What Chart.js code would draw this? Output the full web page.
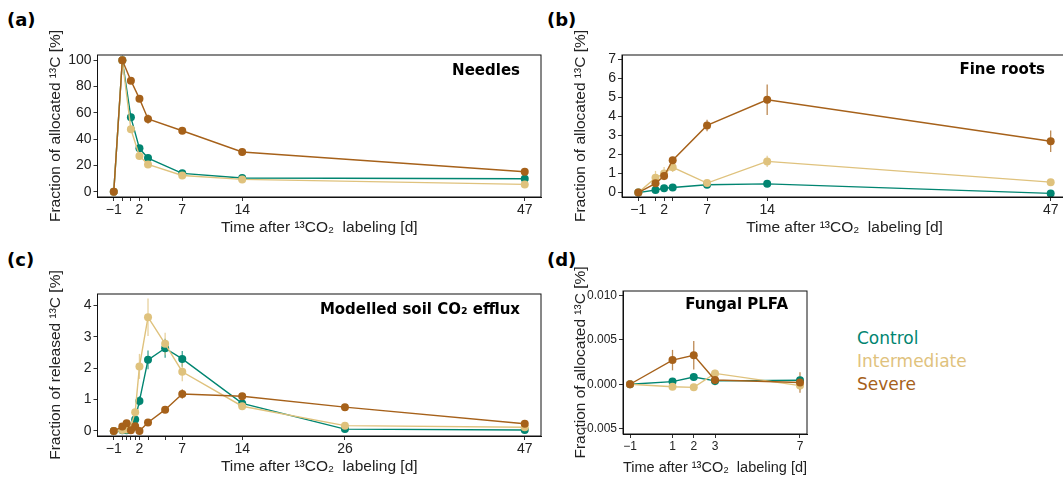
<!DOCTYPE html>
<html>
<head>
<meta charset="utf-8">
<script src="https://cdn.jsdelivr.net/npm/chart.js@4.4.1/dist/chart.umd.min.js"></script>
<style>
  body { margin: 0; width: 1063px; height: 481px; overflow: hidden; background: #fff; position: relative; }
  canvas { position: absolute; }
  .tag { position: absolute; font: bold 18px "DejaVu Sans", sans-serif; line-height: 18px; color: #000; }
  #legend { position: absolute; left: 857px; top: 327px; font: 17px "DejaVu Sans", sans-serif; line-height: 23px; }
</style>
</head>
<body>
<div class="tag" style="left:7px;top:11px">(a)</div>
<div class="tag" style="left:547px;top:11px">(b)</div>
<div class="tag" style="left:7px;top:251px">(c)</div>
<div class="tag" style="left:547px;top:251px">(d)</div>
<canvas id="chartA" width="545" height="225" style="left:0;top:20px;width:545px;height:225px"></canvas>
<canvas id="chartB" width="530" height="225" style="left:545px;top:20px;width:530px;height:225px"></canvas>
<canvas id="chartC" width="545" height="222" style="left:0;top:258px;width:545px;height:222px"></canvas>
<canvas id="chartD" width="300" height="222" style="left:545px;top:258px;width:300px;height:222px"></canvas>
<div id="legend"></div>
<script>
// series
const seriesNames = ['Control', 'Intermediate', 'Severe'];
const seriesColors = ['#018571', '#dfc27d', '#a6611a'];

// (a) needles
const needlesDays = [-1, 0, 1, 2, 3, 7, 14, 47];
const needlesControl = [0, 100, 56.6, 33, 25.6, 14, 10.4, 9.9];
const needlesInter = [0, 100, 47.5, 27.2, 20.8, 12.4, 9.4, 5.6];
const needlesSevere = [0, 100, 84.5, 70.8, 55.3, 46.4, 30.2, 15.2];
const needlesControlErr = [0, 0, 3, 1.5, 1.5, 1.5, 1.5, 1];
const needlesInterErr = [0, 0, 2, 1.5, 1.5, 1.5, 1.5, 1];
const needlesSevereErr = [0, 0, 2, 2, 3.5, 1.5, 2.5, 1.5];
const needlesXTicks = [-1, 0, 1, 2, 3, 7, 14, 47];
const needlesXLabels = [-1, 2, 7, 14, 47];
const needlesYTicks = [0, 20, 40, 60, 80, 100];

// (b) fine roots
const rootsDays = [-1, 1, 2, 3, 7, 14, 47];
const rootsControl = [0, 0.14, 0.23, 0.27, 0.41, 0.46, -0.04];
const rootsInter = [0, 0.78, 1.0, 1.33, 0.5, 1.64, 0.55];
const rootsSevere = [0, 0.49, 0.87, 1.7, 3.53, 4.88, 2.7];
const rootsControlErr = [0, 0.05, 0.05, 0.05, 0.05, 0.05, 0.05];
const rootsInterErr = [0, 0.36, 0.35, 0.25, 0.1, 0.3, 0.1];
const rootsSevereErr = [0, 0.15, 0.2, 0.15, 0.3, 0.8, 0.57];
const rootsXTicks = [-1, 1, 2, 3, 7, 14, 47];
const rootsXLabels = [-1, 2, 7, 14, 47];
const rootsYTicks = [0, 1, 2, 3, 4, 5, 6, 7];

// (c) modelled soil CO2 efflux
const effluxDays = [-1, 0, 0.5, 1, 1.5, 2, 3, 5, 7, 14, 26, 47];
const effluxControl = [0, 0.02, 0.02, 0.06, 0.37, 0.96, 2.27, 2.64, 2.3, 0.88, 0.06, 0.03];
const effluxInter = [0, 0.03, 0.05, 0.15, 0.6, 2.06, 3.63, 2.78, 1.89, 0.79, 0.17, 0.12];
const effluxSevere = [0, 0.14, 0.25, 0.02, 0.15, 0, 0.27, 0.68, 1.18, 1.11, 0.76, 0.23];
const effluxControlErr = [0, 0.05, 0.05, 0.05, 0.1, 0.15, 0.3, 0.3, 0.25, 0.1, 0.03, 0.03];
const effluxInterErr = [0, 0.05, 0.05, 0.1, 0.1, 0.4, 0.6, 0.35, 0.3, 0.1, 0.05, 0.05];
const effluxSevereErr = [0, 0.05, 0.05, 0.05, 0.15, 0.05, 0.05, 0.1, 0.15, 0.08, 0.05, 0.05];
const effluxXTicks = [-1, 0, 0.5, 1, 1.5, 2, 3, 5, 7, 14, 26, 47];
const effluxXLabels = [-1, 2, 7, 14, 26, 47];
const effluxYTicks = [0, 1, 2, 3, 4];

// (d) fungal PLFA
const plfaDays = [-1, 1, 2, 3, 7];
const plfaControl = [0, 0.0003, 0.00082, 0.00038, 0.00045];
const plfaInter = [0, -0.00028, -0.00035, 0.00122, -0.00015];
const plfaSevere = [0, 0.00272, 0.00326, 0.00048, 0.0002];
const plfaControlErr = [0, 0.0002, 0.0002, 0.0002, 0.0002];
const plfaInterErr = [0, 0.0002, 0.0002, 0.0004, 0.0005];
const plfaSevereErr = [0, 0.00115, 0.0016, 0.0006, 0.00115];
const plfaXTicks = [-1, 1, 2, 3, 7];
const plfaYTicks = [-0.005, 0, 0.005, 0.010];

Chart.defaults.font.family = '"Liberation Sans", Arial, sans-serif';
Chart.defaults.color = '#222';

function fmt(v, digits) {
  var s = digits ? Math.abs(v).toFixed(digits) : String(Math.abs(v));
  return (v < 0 ? '\u2212' : '') + s;
}

// panel border like ggplot
const boxPlugin = {
  id: 'panelBox',
  afterDraw(chart) {
    const { ctx, chartArea: a } = chart;
    ctx.save();
    ctx.strokeStyle = '#111';
    ctx.lineWidth = 1;
    ctx.strokeRect(a.left, a.top, a.right - a.left, a.bottom - a.top);
    ctx.restore();
  }
};

// vertical error bars, drawn under the lines
const errorBarPlugin = {
  id: 'errorBars',
  beforeDatasetsDraw(chart) {
    const { ctx } = chart;
    const xs = chart.scales.x, ys = chart.scales.y;
    chart.data.datasets.forEach(ds => {
      if (!ds.errors) return;
      ctx.save();
      ctx.strokeStyle = ds.borderColor;
      ctx.globalAlpha = 0.75;
      ctx.lineWidth = 1.3;
      ds.data.forEach((p, j) => {
        const e = ds.errors[j];
        if (!e) return;
        const x = xs.getPixelForValue(p.x);
        ctx.beginPath();
        ctx.moveTo(x, ys.getPixelForValue(p.y - e));
        ctx.lineTo(x, ys.getPixelForValue(p.y + e));
        ctx.stroke();
      });
      ctx.restore();
    });
  }
};

// bold label in the top right corner of the panel
const panelTitlePlugin = {
  id: 'panelTitle',
  afterDraw(chart, args, opts) {
    if (!opts.text) return;
    const { ctx, chartArea: a } = chart;
    ctx.save();
    ctx.font = 'bold 15px "DejaVu Sans", sans-serif';
    ctx.fillStyle = '#000';
    ctx.textAlign = 'right';
    ctx.textBaseline = 'middle';
    ctx.fillText(opts.text, a.right - opts.dx, a.top + opts.dy);
    ctx.restore();
  }
};

function makePanel(id, days, values, errors, o) {
  const order = [2, 1, 0];
  const datasets = values.map((vals, i) => ({
    label: seriesNames[i],
    data: days.map((d, j) => ({ x: d, y: vals[j] })),
    errors: errors[i],
    borderColor: seriesColors[i],
    backgroundColor: seriesColors[i],
    pointBackgroundColor: seriesColors[i],
    pointBorderWidth: 0,
    pointRadius: 4,
    borderWidth: 1.4,
    order: order[i],
    tension: 0
  }));

  new Chart(document.getElementById(id), {
    type: 'line',
    data: { datasets: datasets },
    plugins: [errorBarPlugin, boxPlugin, panelTitlePlugin],
    options: {
      responsive: false,
      animation: false,
      devicePixelRatio: 1,
      layout: { padding: o.pad },
      plugins: {
        legend: { display: false },
        tooltip: { enabled: false },
        panelTitle: { text: o.title, dx: o.titleDx, dy: o.titleDy }
      },
      scales: {
        x: {
          type: 'linear',
          min: o.xMin,
          max: o.xMax,
          afterBuildTicks: s => { s.ticks = o.xTicks.map(v => ({ value: v })); },
          afterFit: s => { s.height = o.xH; },
          ticks: {
            autoSkip: false,
            maxRotation: 0,
            padding: 1,
            color: '#222',
            font: { size: o.tickSize },
            callback: v => (o.xLabels.includes(v) ? fmt(v) : '')
          },
          grid: { display: true, drawOnChartArea: false, drawTicks: true, tickLength: 4, color: '#333' },
          border: { display: true, color: '#111' },
          title: {
            display: true,
            text: 'Time after \u00b9\u00b3CO\u2082  labeling [d]',
            font: { size: 15.5 },
            color: '#222',
            padding: { top: 0, bottom: o.xTitlePad }
          }
        },
        y: {
          type: 'linear',
          min: o.yMin,
          max: o.yMax,
          afterBuildTicks: s => { s.ticks = o.yTicks.map(v => ({ value: v })); },
          afterFit: s => { s.width = o.yW; },
          ticks: {
            autoSkip: false,
            padding: 2,
            color: '#222',
            font: { size: o.tickSize },
            callback: v => fmt(v, o.yDigits)
          },
          grid: { display: true, drawOnChartArea: false, drawTicks: true, tickLength: 4, color: '#333' },
          border: { display: true, color: '#111' },
          title: {
            display: true,
            text: o.yTitle,
            font: { size: 15.5 },
            color: '#222',
            padding: { top: o.yTitlePad, bottom: 0 }
          }
        }
      }
    }
  });
}

makePanel('chartA', needlesDays,
  [needlesControl, needlesInter, needlesSevere],
  [needlesControlErr, needlesInterErr, needlesSevereErr],
  { pad: { left: 0, top: 35, right: 3.5, bottom: 0 }, xH: 48, yW: 97.5,
    xMin: -2.9, xMax: 48.9, yMin: -4, yMax: 104,
    xTicks: needlesXTicks, xLabels: needlesXLabels, yTicks: needlesYTicks, yDigits: 0,
    tickSize: 14, xTitlePad: 8, yTitlePad: 46,
    yTitle: 'Fraction of allocated \u00b9\u00b3C [%]',
    title: 'Needles', titleDx: 21, titleDy: 16 });

makePanel('chartB', rootsDays,
  [rootsControl, rootsInter, rootsSevere],
  [rootsControlErr, rootsInterErr, rootsSevereErr],
  { pad: { left: 0, top: 35, right: 8, bottom: 0 }, xH: 48, yW: 77,
    xMin: -2.9, xMax: 48.9, yMin: -0.23, yMax: 7.23,
    xTicks: rootsXTicks, xLabels: rootsXLabels, yTicks: rootsYTicks, yDigits: 0,
    tickSize: 14, xTitlePad: 8, yTitlePad: 26,
    yTitle: 'Fraction of allocated \u00b9\u00b3C [%]',
    title: 'Fine roots', titleDx: 22, titleDy: 15 });

makePanel('chartC', effluxDays,
  [effluxControl, effluxInter, effluxSevere],
  [effluxControlErr, effluxInterErr, effluxSevereErr],
  { pad: { left: 0, top: 36, right: 3.5, bottom: 0 }, xH: 44, yW: 97.5,
    xMin: -2.9, xMax: 48.9, yMin: -0.16, yMax: 4.37,
    xTicks: effluxXTicks, xLabels: effluxXLabels, yTicks: effluxYTicks, yDigits: 0,
    tickSize: 14, xTitlePad: 4, yTitlePad: 46,
    yTitle: 'Fraction of released \u00b9\u00b3C [%]',
    title: 'Modelled soil CO\u2082 efflux', titleDx: 21, titleDy: 16 });

makePanel('chartD', plfaDays,
  [plfaControl, plfaInter, plfaSevere],
  [plfaControlErr, plfaInterErr, plfaSevereErr],
  { pad: { left: 0, top: 33, right: 38, bottom: 0 }, xH: 46, yW: 78,
    xMin: -1.33, xMax: 7.33, yMin: -0.0056, yMax: 0.0105,
    xTicks: plfaXTicks, xLabels: plfaXTicks, yTicks: plfaYTicks, yDigits: 3,
    tickSize: 12, xTitlePad: 3, yTitlePad: 26,
    yTitle: 'Fraction of allocated \u00b9\u00b3C [%]',
    title: 'Fungal PLFA', titleDx: 19, titleDy: 14 });

// legend as plain coloured text
const legend = document.getElementById('legend');
seriesNames.forEach((name, i) => {
  const div = document.createElement('div');
  div.textContent = name;
  div.style.color = seriesColors[i];
  legend.appendChild(div);
});
</script>
</body>
</html>
